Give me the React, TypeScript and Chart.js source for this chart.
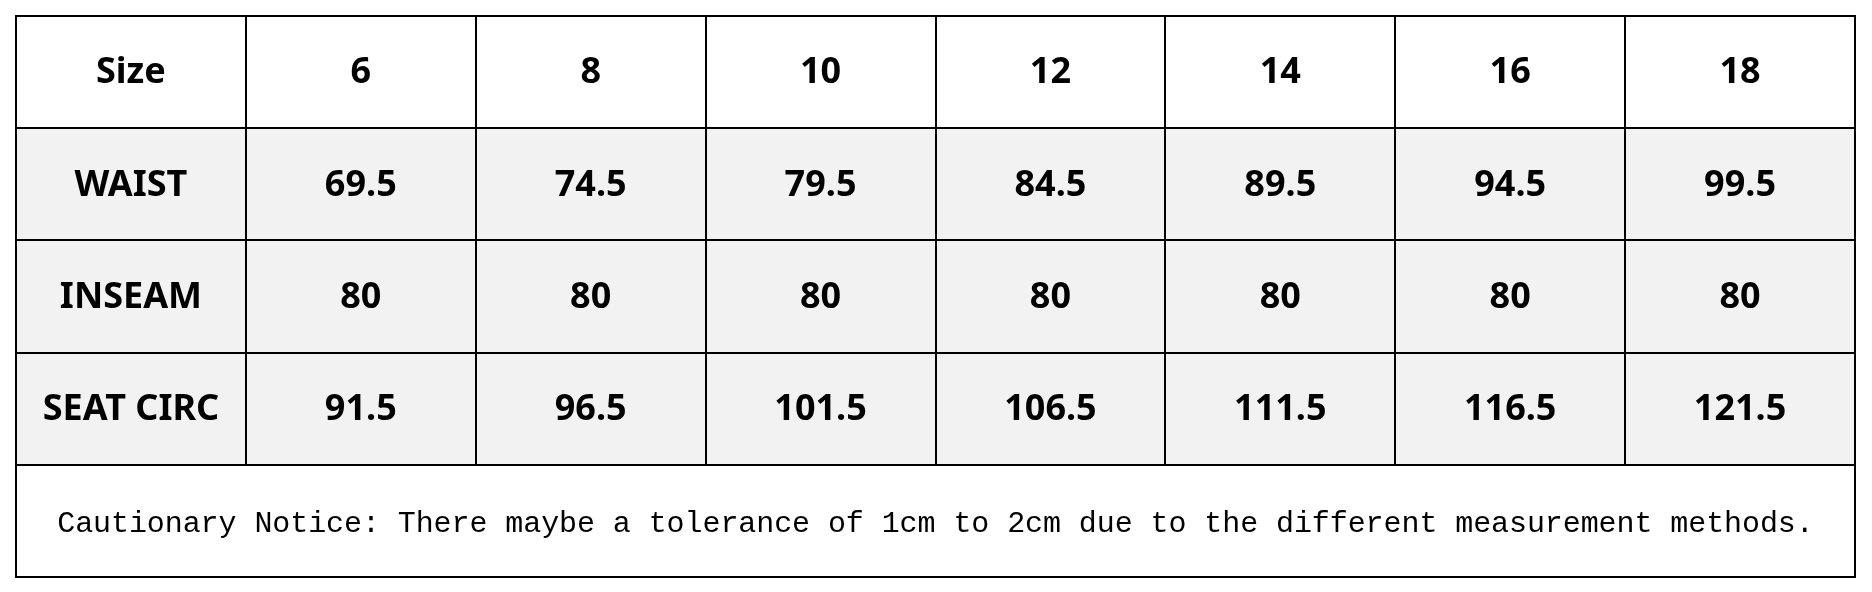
import { useEffect, useRef } from "react";
import { Chart, registerables } from "chart.js";

Chart.register(...registerables);

const headerLabel = "Size";
const sizes = ["6", "8", "10", "12", "14", "16", "18"];
const rowLabels = ["WAIST", "INSEAM", "SEAT CIRC"];
const waist = [69.5, 74.5, 79.5, 84.5, 89.5, 94.5, 99.5];
const inseam = [80, 80, 80, 80, 80, 80, 80];
const seatCirc = [91.5, 96.5, 101.5, 106.5, 111.5, 116.5, 121.5];
const notice =
  "Cautionary Notice: There maybe a tolerance of 1cm to 2cm due to the different measurement methods.";

const rowValues = [waist, inseam, seatCirc];
const nCols = sizes.length + 1;
const nRows = rowValues.length + 2;

const boldFont = "bold 36px 'Noto Sans', 'Open Sans', sans-serif";

// draws the grid, fills and texts of the table from the x / y scales
const tablePlugin = {
  id: "sizeTable",
  beforeDatasetsDraw(chart: any) {
    const { ctx, scales } = chart;
    const x = scales.x;
    const y = scales.y;
    const left = x.getPixelForValue(0);
    const right = x.getPixelForValue(nCols);
    const top = y.getPixelForValue(0);
    const bottom = y.getPixelForValue(nRows);

    ctx.save();
    // grey data rows
    ctx.fillStyle = "#f2f2f2";
    const y1 = y.getPixelForValue(1);
    const y2 = y.getPixelForValue(1 + rowValues.length);
    ctx.fillRect(left, y1, right - left, y2 - y1);

    ctx.strokeStyle = "#000";
    ctx.lineWidth = 2;
    ctx.beginPath();
    for (let r = 0; r <= nRows; r++) {
      const py = Math.round(y.getPixelForValue(r));
      ctx.moveTo(left - 1, py);
      ctx.lineTo(right + 1, py);
    }
    const gridBottom = y.getPixelForValue(nRows - 1);
    for (let c = 0; c <= nCols; c++) {
      const px = Math.round(x.getPixelForValue(c));
      ctx.moveTo(px, top);
      ctx.lineTo(px, c === 0 || c === nCols ? bottom : gridBottom);
    }
    ctx.stroke();

    // header + row labels
    ctx.fillStyle = "#000";
    ctx.font = boldFont;
    ctx.textAlign = "center";
    ctx.textBaseline = "middle";
    const headers = [headerLabel, ...sizes];
    headers.forEach((h, c) => {
      ctx.fillText(h, x.getPixelForValue(c + 0.5), y.getPixelForValue(0.5) + 1);
    });
    rowLabels.forEach((l, r) => {
      ctx.fillText(l, x.getPixelForValue(0.5), y.getPixelForValue(r + 1.5) + 1);
    });

    // notice spanning all columns
    const target = (right - left) * 0.955;
    ctx.font = "30px 'Liberation Mono', 'DejaVu Sans Mono', monospace";
    const w = ctx.measureText(notice).width;
    const spacing = (target - w) / notice.length;
    (ctx as any).letterSpacing = spacing.toFixed(2) + "px";
    ctx.fillText(
      notice,
      (left + right) / 2 + spacing / 2,
      y.getPixelForValue(nRows - 0.5) + 3
    );
    ctx.restore();
  },
  afterDatasetsDraw(chart: any) {
    const { ctx } = chart;
    ctx.save();
    ctx.fillStyle = "#000";
    ctx.font = boldFont;
    ctx.textAlign = "center";
    ctx.textBaseline = "middle";
    chart.data.datasets.forEach((ds: any, d: number) => {
      chart.getDatasetMeta(d).data.forEach((el: any, i: number) => {
        ctx.fillText(String(ds.data[i].v), el.x, el.y + 1);
      });
    });
    ctx.restore();
  },
};

export default function App() {
  const canvasRef = useRef<any>(null);

  useEffect(() => {
    if (!canvasRef.current) return;
    const chart = new Chart(canvasRef.current.getContext("2d"), {
      type: "scatter",
      data: {
        datasets: rowValues.map((vals, r) => ({
          label: rowLabels[r],
          data: vals.map((v, i) => ({ x: i + 1.5, y: r + 1.5, v })),
          pointRadius: 0,
          pointHoverRadius: 0,
        })),
      },
      options: {
        animation: false,
        responsive: true,
        maintainAspectRatio: false,
        events: [],
        layout: { padding: { left: 8, top: 8, right: 9, bottom: 7 } },
        plugins: {
          legend: { display: false },
          tooltip: { enabled: false },
        },
        scales: {
          x: { type: "linear", min: 0, max: nCols, display: false },
          y: { type: "linear", min: 0, max: nRows, reverse: true, display: false },
        },
      },
      plugins: [tablePlugin],
    });
    return () => chart.destroy();
  }, []);

  return (
    <div style={{ position: "relative", width: "100%", height: 576 }}>
      <canvas ref={canvasRef} style={{ display: "block" }} />
    </div>
  );
}
